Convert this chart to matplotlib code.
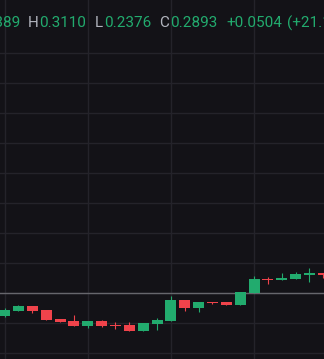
import numpy as np
import matplotlib.pyplot as plt

# candle data (index, open, high, low, close)
opens  = [0.2324, 0.2341, 0.2356, 0.2343, 0.2313, 0.2307, 0.2291, 0.2307, 0.2293, 0.2293,
          0.2273, 0.2297, 0.2307, 0.2377, 0.2350, 0.2370, 0.2370, 0.2360, 0.2400, 0.2447,
          0.2443, 0.2447, 0.2460, 0.2467]
highs  = [0.2349, 0.2360, 0.2356, 0.2343, 0.2313, 0.2327, 0.2307, 0.2310, 0.2303, 0.2303,
          0.2300, 0.2317, 0.2390, 0.2377, 0.2370, 0.2370, 0.2370, 0.2403, 0.2457, 0.2453,
          0.2467, 0.2470, 0.2483, 0.2467]
lows   = [0.2321, 0.2341, 0.2333, 0.2311, 0.2303, 0.2291, 0.2283, 0.2287, 0.2280, 0.2273,
          0.2273, 0.2277, 0.2307, 0.2340, 0.2337, 0.2363, 0.2360, 0.2360, 0.2400, 0.2430,
          0.2443, 0.2447, 0.2437, 0.2450]
closes = [0.2343, 0.2356, 0.2341, 0.2311, 0.2303, 0.2291, 0.2307, 0.2291, 0.2291, 0.2273,
          0.2300, 0.2310, 0.2377, 0.2350, 0.2370, 0.2367, 0.2360, 0.2403, 0.2447, 0.2443,
          0.2450, 0.2463, 0.2467, 0.2460]
price_line = 0.2400

legend_labels = ["H", "L", "C"]
legend_values = ["0.3110", "0.2376", "0.2893"]
open_value = "0.2389"
change_text = "+0.0504"
change_pct = "(+21.10%)"

bg = "#131217"
green = "#22ab6e"
red = "#f0434b"
grid_c = "#24232a"

fig = plt.figure(figsize=(3.24, 3.59), dpi=100, facecolor=bg)
ax = fig.add_axes([0, 0, 1, 1])
ax.set_facecolor(bg)

x = np.arange(len(opens))
o = np.array(opens); c = np.array(closes)
h = np.array(highs); l = np.array(lows)
up = c >= o
cols = np.where(up, green, red)

ax.vlines(x, l, h, colors=cols, linewidth=0.8, zorder=3)
body_h = np.maximum(np.abs(c - o), 0.0003)
ax.bar(x, body_h, bottom=np.minimum(o, c), width=0.79, color=cols, zorder=4)

ax.axhline(price_line, color="#66666c", linewidth=1.0, zorder=2)

ax.set_xlim(-0.335, 23.05)
ax.set_ylim(0.24 - 66 / 3000, 0.24 + 293 / 3000)

ax.set_xticks([0, 6, 12, 18])
ax.set_yticks(np.arange(0.22, 0.3201, 0.01))
ax.grid(True, color=grid_c, linewidth=1.0, zorder=0)
ax.tick_params(length=0, labelleft=False, labelbottom=False)
for s in ax.spines.values():
    s.set_visible(False)

# legend text on top
W, H = 324, 359
yb = 1 - 27.3 / H
fs = 11
fam = "Roboto"
fig.text(20.5 / W, yb, open_value, color=green, fontsize=fs, family=fam, ha="right", va="baseline")
label_x = [27.7, 95, 159]
value_x = [39, 104, 170]
for lab, val, lx, vx in zip(legend_labels, legend_values, label_x, value_x):
    fig.text(lx / W, yb, lab, color="#b2b5be", fontsize=fs, family=fam, va="baseline")
    fig.text(vx / W, yb, val, color=green, fontsize=fs, family=fam, va="baseline")
fig.text(226 / W, yb, change_text, color=green, fontsize=fs, family=fam, va="baseline")
fig.text(287 / W, yb, change_pct, color=green, fontsize=fs, family=fam, va="baseline")

fig.savefig("out.png", dpi=100, facecolor=bg)
